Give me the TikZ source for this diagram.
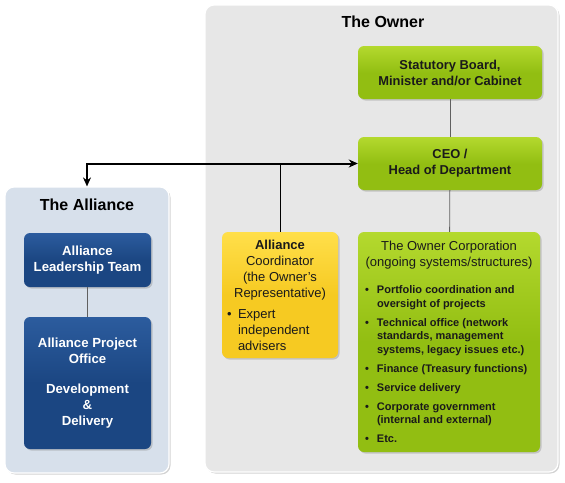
\documentclass[tikz,border=0pt]{standalone}
\usepackage{fontspec}
\setmainfont{Liberation Sans}
\usetikzlibrary{shadows,arrows.meta}
\definecolor{panelgray}{HTML}{E7E7E7}
\definecolor{panelblue}{HTML}{D7E0EB}
\definecolor{navy}{HTML}{1B4682}
\definecolor{navytop}{HTML}{2C5C9E}
\definecolor{leaf}{HTML}{92BE12}
\definecolor{leaftop}{HTML}{B4D92E}
\definecolor{gold}{HTML}{F6CA22}
\definecolor{goldtop}{HTML}{FFDF4A}
\definecolor{inktext}{HTML}{1A1A1A}
\newcommand{\blt}[2][12pt]{\par\hangindent=#1\hangafter=1\noindent\makebox[#1][l]{\textbullet}#2}
\begin{document}
\begin{tikzpicture}[x=1pt,y=-1pt,
  panel/.style={rounded corners=9pt, draw=white, line width=1.2pt,
    drop shadow={opacity=0.35, shadow xshift=1.5pt, shadow yshift=-1.5pt}},
  box/.style={rounded corners=6pt, inner sep=0pt,
    drop shadow={opacity=0.35, shadow xshift=1.5pt, shadow yshift=-1.5pt}},
  bluebox/.style={box, top color=navytop, bottom color=navy, middle color=navy,
    text=white, font=\fontsize{13.2}{16}\selectfont\bfseries, align=center},
  greenbox/.style={box, top color=leaftop, bottom color=leaf, middle color=leaf,
    text=inktext, align=center},
  goldbox/.style={box, top color=goldtop, bottom color=gold, middle color=gold,
    text=inktext},
  title/.style={font=\fontsize{16}{18}\selectfont\bfseries, text=black},
  link/.style={draw=gray!75!black, line width=0.8pt},
  bigarrow/.style={line width=2pt, {Stealth[length=9pt,width=8pt]}-{Stealth[length=9pt,width=8pt]}},
  thin/.style={line width=0.8pt, draw=black}
]
\useasboundingbox (0,0) rectangle (565,482);

% panels
\node[panel, fill=panelgray, minimum width=353pt, minimum height=467pt] (owner) at (381.5,238.5) {};
\node[title] (ownertitle) at (383,22) {The Owner};
\node[panel, fill=panelblue, minimum width=164pt, minimum height=286pt] (alliance) at (87,330) {};
\node[title] (alliancetitle) at (87,205) {The Alliance};

% alliance boxes
\node[bluebox, minimum width=127pt, minimum height=54pt] (alt) at (87.5,260) {Alliance\\Leadership Team};
\node[bluebox, minimum width=127pt, minimum height=132pt] (apo) at (87.5,383) {Alliance Project\\Office\\[14pt]Development\\\&\\Delivery};
\draw[link] (alt) -- (apo);

% owner boxes
\node[greenbox, minimum width=184pt, minimum height=53pt, font=\fontsize{12.9}{16}\selectfont\bfseries] (board) at (450,72.5) {Statutory Board,\\Minister and/or Cabinet};
\node[greenbox, minimum width=184pt, minimum height=53pt, font=\fontsize{12.9}{16}\selectfont\bfseries] (ceo) at (450,163.5) {CEO /\\Head of Department};
\node[goldbox, minimum width=116pt, minimum height=126pt] (coord) at (280,295) {%
  \begin{minipage}{106pt}\fontsize{13}{16}\selectfont
  \centering\textbf{Alliance}\\Coordinator\\(the Owner’s\\Representative)\par
  \vspace{5pt}\raggedright
  \blt[11pt]{Expert independent advisers}
  \end{minipage}};
\node[greenbox, minimum width=182pt, minimum height=220pt] (corp) at (449,342) {%
  \begin{minipage}{172pt}\fontsize{13}{16}\selectfont
  \centering \mbox{The Owner Corporation}\\\mbox{(ongoing systems/structures)}\par
  \vspace{8pt}\raggedright\fontsize{11}{13.5}\selectfont\bfseries
  \setlength{\parskip}{5.5pt}
  \leftskip=2pt
  \blt{Portfolio coordination and oversight of projects}
  \blt{Technical office (network standards, management systems, legacy issues etc.)}
  \blt{Finance (Treasury functions)}
  \blt{Service delivery}
  \blt{Corporate government (internal and external)}
  \blt{Etc.}
  \end{minipage}};

\draw[link] (board) -- (ceo);
\draw[link] (ceo) -- (corp);

% arrows
\draw[bigarrow] (alliance.north) |- (ceo.west);
\draw[thin] (coord.north) -- (coord.north |- ceo.west);
\end{tikzpicture}
\end{document}
